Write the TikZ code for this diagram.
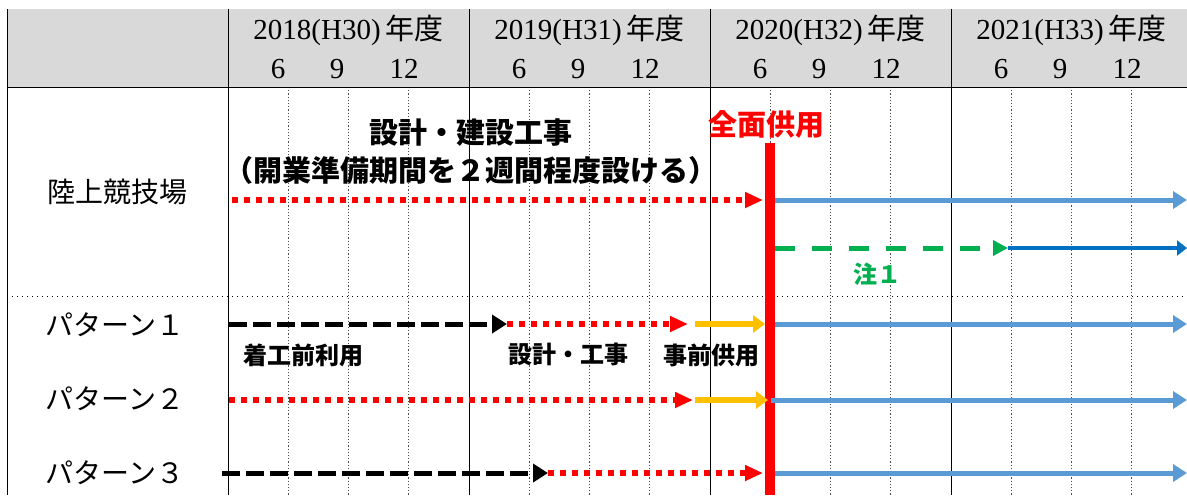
\documentclass[tikz,border=0pt]{standalone}
\usepackage{fontspec}
\setmainfont{Liberation Serif}
\newfontfamily\jp{Noto Sans CJK JP}
\usepackage{tikz}
\usetikzlibrary{arrows.meta}
\definecolor{hdrgray}{HTML}{D9D9D9}
\definecolor{openblue}{HTML}{5B9BD5}
\definecolor{lateblue}{HTML}{0070C0}
\definecolor{notegreen}{HTML}{00B050}
\definecolor{earlyyellow}{HTML}{FFC000}

\begin{document}
\begin{tikzpicture}[x=0.5pt,y=-0.5pt,inner sep=0pt]
		\tikzstyle{gridline}=[line width=0.5pt,black]
		\tikzstyle{quarter}=[line width=0.6pt,densely dotted,black!70]
		\tikzstyle{hdr}=[font=\fontsize{14.5}{17}\selectfont]
		\tikzstyle{rowlabel}=[font=\jp\fontsize{14}{17}\selectfont]
		\tikzstyle{task}=[font=\jp\bfseries\fontsize{14.5}{17}\selectfont]
		\tikzstyle{step label}=[font=\jp\bfseries\fontsize{12}{14}\selectfont]
		\tikzstyle{designline}=[red,line width=3pt,dash pattern=on 3pt off 3pt,-{Triangle[length=9pt,width=7.5pt]}]
		\tikzstyle{preline}=[black,line width=2.5pt,dash pattern=on 9pt off 3pt,-{Triangle[length=7.5pt,width=9pt]}]
		\tikzstyle{earlyline}=[earlyyellow,line width=3pt,-{Triangle[length=6pt,width=8.5pt]}]
		\tikzstyle{openline}=[openblue,line width=2.5pt,-{Triangle[length=7pt,width=8.5pt]}]
		\tikzstyle{noteline}=[notegreen,line width=2.5pt,dash pattern=on 10pt off 8.5pt,-{Triangle[length=7.5pt,width=7.5pt]}]
		\tikzstyle{lateline}=[lateblue,line width=2.2pt,-{Triangle[length=5pt,width=7.5pt]}]
		
		\useasboundingbox (0,0) rectangle (1187,495);
		
		% table
		\fill[hdrgray] (7,9) rectangle (1187,87);
		\foreach \x in {228,469,710,951}
		\foreach \q in {1,2,3}
		\draw[quarter] ({\x+60.25*\q},87) -- ({\x+60.25*\q},495);
		\foreach \x in {7,228,469,710,951}
		\draw[gridline] (\x,9) -- (\x,495);
		\draw[gridline] (7,87) -- (1187,87);
		\draw[line width=0.5pt,dotted] (7,296) -- (1187,296);
		
		% fiscal years
		\foreach \yr/\hs/\x in {2018/30/228,2019/31/469,2020/32/710,2021/33/951} {
			\node[hdr] (fy\yr) at (\x+120.5,30) {\yr(H\hs)\,{\jp 年度}};
			\node[hdr] (m6_\yr) at (\x+50,69) {6};
			\node[hdr] (m9_\yr) at (\x+109,69) {9};
			\node[hdr] (m12_\yr) at (\x+176,69) {12};
		}
		
		% rows
		\node[rowlabel] (stadium) at (117,192) {陸上競技場};
		\node[rowlabel] (pat1) at (115,325) {パターン１};
		\node[rowlabel] (pat2) at (115,399) {パターン２};
		\node[rowlabel] (pat3) at (115,473) {パターン３};
		
		% full opening
		\fill[red] (765,143) rectangle (775,495);
		\node[task,red] (zenmen) at (766,124) {全面供用};
		
		\node[task] (work) at (471,133) {設計・建設工事};
		\node[task] (prep) at (471,170) {（開業準備期間を２週間程度設ける）};
		\node[step label,notegreen] (note1) at (877,274) {注１};
		\node[step label] (preuse) at (303,355) {着工前利用};
		\node[step label] (design) at (568,354) {設計・工事};
		\node[step label] (early) at (711,355) {事前供用};
		
		\coordinate (s0) at (232,200);
		\coordinate (s1) at (763,200);
		\coordinate (s2) at (775,200);
		\coordinate (s3) at (1187,200);
		\coordinate (n0) at (775,248);
		\coordinate (n1) at (1008,248);
		\coordinate (n2) at (1187,248);
		
		\coordinate (a0) at (229,324);
		\coordinate (a1) at (507,324);
		\coordinate (a2) at (688,324);
		\coordinate (a3) at (695,324);
		\coordinate (a4) at (765,324);
		\coordinate (a5) at (775,324);
		\coordinate (a6) at (1187,324);
		
		\coordinate (b0) at (229,400);
		\coordinate (b1) at (693,400);
		\coordinate (b2) at (695,400);
		\coordinate (b3) at (768,400);
		\coordinate (b4) at (771,400);
		\coordinate (b5) at (1187,400);
		
		\coordinate (c0) at (222,473);
		\coordinate (c1) at (548,473);
		\coordinate (c2) at (763,473);
		\coordinate (c3) at (775,473);
		\coordinate (c4) at (1187,473);
		
		\path
		(s0) edge [designline] (s1)
		(s2) edge [openline] (s3)
		(n0) edge [noteline] (n1)
		(n1) edge [lateline] (n2)
		
		(a0) edge [preline] (a1)
		(a1) edge [designline] (a2)
		(a3) edge [earlyline] (a4)
		(a5) edge [openline] (a6)
		
		(b0) edge [designline] (b1)
		(b2) edge [earlyline] (b3)
		(b4) edge [openline] (b5)
		
		(c0) edge [preline] (c1)
		(c1) edge [designline] (c2)
		(c3) edge [openline] (c4);
\end{tikzpicture}
\end{document}
